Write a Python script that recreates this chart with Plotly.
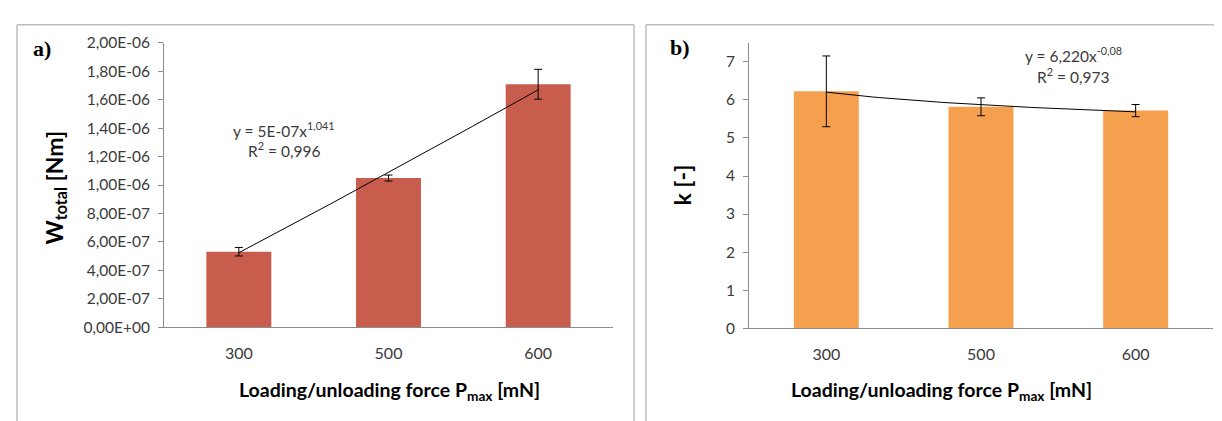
import numpy as np
import plotly.graph_objects as go

# ---------------- data ----------------
categories = ["300", "500", "600"]          # loading/unloading force Pmax [mN]
w_total = [0.531e-6, 1.049e-6, 1.709e-6]    # W_total [Nm]
w_total_err = [0.030e-6, 0.021e-6, 0.105e-6]
k_values = [6.226, 5.82, 5.72]              # k [-]
k_err = [0.93, 0.235, 0.16]
eq_a = ["y = 5E-07x<sup>1,041</sup>", "R<sup>2</sup> = 0,996"]
eq_b = ["y = 6,220x<sup>-0,08</sup>", "R<sup>2</sup> = 0,973"]
yticks_a = [0, 0.2e-6, 0.4e-6, 0.6e-6, 0.8e-6, 1.0e-6, 1.2e-6, 1.4e-6, 1.6e-6, 1.8e-6, 2.0e-6]
yticklabels_a = ["0,00E+00", "2,00E-07", "4,00E-07", "6,00E-07", "8,00E-07", "1,00E-06",
                 "1,20E-06", "1,40E-06", "1,60E-06", "1,80E-06", "2,00E-06"]
yticks_b = [0, 1, 2, 3, 4, 5, 6, 7]

W, H = 1222, 421
def px(x): return x / W
def py(y): return 1 - y / H

RED = "#C95D4D"
ORANGE = "#F5A04E"
AX = "#8C8C8C"
TXT = "#3A3A3A"
FONT = "Lato"

xpos = list(range(len(categories)))

def power_trend(vals):
    xi = np.arange(1, len(vals) + 1)
    b, ln_a = np.polyfit(np.log(xi), np.log(vals), 1)
    xs = np.linspace(1, len(vals), 60)
    return xs - 1, np.exp(ln_a) * xs ** b

fig = go.Figure()

fig.add_trace(go.Bar(x=xpos, y=w_total, width=0.434, marker=dict(color=RED, line=dict(width=0)),
                     error_y=dict(type="data", array=w_total_err, color="black", thickness=1, width=4),
                     xaxis="x", yaxis="y", showlegend=False))
tx, ty = power_trend(w_total)
fig.add_trace(go.Scatter(x=tx, y=ty, mode="lines", line=dict(color="black", width=1),
                         xaxis="x", yaxis="y", showlegend=False))

fig.add_trace(go.Bar(x=xpos, y=k_values, width=0.42, marker=dict(color=ORANGE, line=dict(width=0)),
                     error_y=dict(type="data", array=k_err, color="black", thickness=1, width=4),
                     xaxis="x2", yaxis="y2", showlegend=False))
tx2, ty2 = power_trend(k_values)
fig.add_trace(go.Scatter(x=tx2, y=ty2, mode="lines", line=dict(color="black", width=1),
                         xaxis="x2", yaxis="y2", showlegend=False))

xaxis_common = dict(range=[-0.5, 2.5], tickmode="array", tickvals=xpos, ticktext=categories,
                    showgrid=False, zeroline=False, showline=True, linecolor=AX, linewidth=1,
                    ticks="", tickfont=dict(family=FONT, size=16, color=TXT), ticklabelstandoff=12)
yaxis_common = dict(showgrid=False, zeroline=False, showline=True, linecolor=AX, linewidth=1,
                    ticks="outside", ticklen=5, tickcolor=AX, ticklabelstandoff=5,
                    tickfont=dict(family=FONT, size=15.5, color=TXT))

fig.update_layout(
    width=W, height=H, margin=dict(l=0, r=0, t=0, b=0),
    paper_bgcolor="white", plot_bgcolor="white",
    xaxis=dict(domain=[px(156), px(605)], anchor="y", **xaxis_common),
    yaxis=dict(domain=[py(323), py(26)], anchor="x", range=[0, 2e-6], tickmode="array",
               tickvals=yticks_a, ticktext=yticklabels_a, **yaxis_common),
    xaxis2=dict(domain=[px(741), px(1205)], anchor="y2", **xaxis_common),
    yaxis2=dict(domain=[py(324), py(26)], anchor="x2", range=[0, 7.5], tickmode="array",
                tickvals=yticks_b, ticktext=[str(v) for v in yticks_b], **yaxis_common),
)

ann = []
def A(x, y, text, size, bold=False, family=FONT, angle=0, color=TXT):
    ann.append(dict(x=px(x), y=py(y), xref="paper", yref="paper", text=("<b>%s</b>" % text) if bold else text,
                    showarrow=False, xanchor="center", yanchor="middle", textangle=angle,
                    font=dict(family=family, size=size, color=color)))

A(34, 32, "a)", 22, bold=True, family="Liberation Serif", color="black")
A(672, 31, "b)", 22, bold=True, family="Liberation Serif", color="black")
A(47, 177, "W<sub>total</sub> [Nm]", 23, bold=True, angle=-90, color="black")
A(674, 175, "k [-]", 23, bold=True, angle=-90, color="black")
A(381, 390, "Loading/unloading force P<sub>max</sub> [mN]", 19.5, bold=True, color="black")
A(933, 390, "Loading/unloading force P<sub>max</sub> [mN]", 19.5, bold=True, color="black")
A(276, 116, eq_a[0], 15.5)
A(276, 137, eq_a[1], 15.5)
A(1065, 38, eq_b[0], 15.5)
A(1065, 60, eq_b[1], 15.5)
fig.update_layout(annotations=ann)

BORDER = "#BDBDBD"
shapes = []
def L(x0, y0, x1, y1):
    shapes.append(dict(type="line", xref="paper", yref="paper", x0=px(x0), y0=py(y0), x1=px(x1), y1=py(y1),
                       line=dict(color=BORDER, width=1.5)))
L(9, 7, 9, 421)
L(9, 7, 626, 7)
L(626, 7, 626, 421)
L(638, 7, 638, 421)
L(638, 7, 1222, 7)
fig.update_layout(shapes=shapes)

fig.write_html("out.html")
